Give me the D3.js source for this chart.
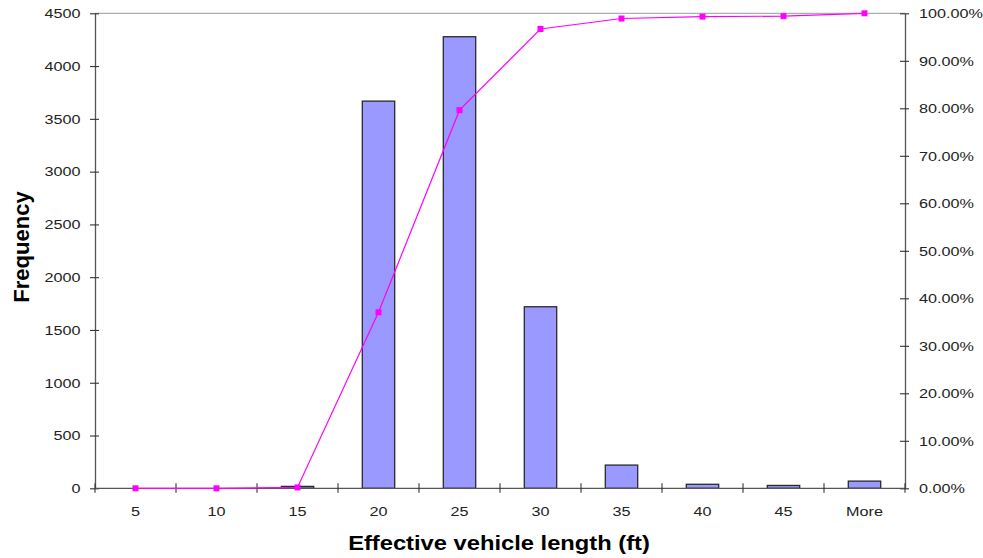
<!DOCTYPE html>
<html>
<head>
<meta charset="utf-8">
<script src="https://cdn.jsdelivr.net/npm/d3@7"></script>
<style>
  html, body { margin: 0; padding: 0; background: #fff; }
  svg { display: block; font-family: "Liberation Sans", Arial, sans-serif; }
</style>
</head>
<body>
<svg id="chart" width="983" height="558"></svg>
<script>
// Histogram of effective vehicle length with cumulative percentage
const categories = ["5", "10", "15", "20", "25", "30", "35", "40", "45", "More"];
const frequency = [0, 0, 18, 3668, 4278, 1720, 220, 38, 27, 68];
const cumulativePct = [0, 0, 0.18, 37.05, 79.6, 96.7, 98.9, 99.3, 99.4, 100];
const leftTicks = [0, 500, 1000, 1500, 2000, 2500, 3000, 3500, 4000, 4500];
const rightTicks = [0, 10, 20, 30, 40, 50, 60, 70, 80, 90, 100];

const svg = d3.select("#chart");
const m = { left: 95, right: 905, top: 13.3, bottom: 488.3 };
const stretch = 1.2;   // horizontal stretch of the label lettering

const xBand = d3.scaleBand().domain(categories).range([m.left, m.right]);
const yL = d3.scaleLinear().domain([0, 4500]).range([m.bottom, m.top]);
const yR = d3.scaleLinear().domain([0, 100]).range([m.bottom, m.top]);

// top border of plot area
svg.append("line")
  .attr("x1", m.left).attr("x2", m.right)
  .attr("y1", m.top).attr("y2", m.top)
  .attr("stroke", "#9a9a9a").attr("stroke-width", 1);

// bars
svg.append("g").selectAll("rect")
  .data(frequency)
  .join("rect")
  .attr("x", (d, i) => xBand(categories[i]) + xBand.bandwidth() * 0.3)
  .attr("width", xBand.bandwidth() * 0.4)
  .attr("y", d => yL(d))
  .attr("height", d => yL(0) - yL(d))
  .attr("fill", "#9999ff")
  .attr("stroke", "#2a2a2a")
  .attr("stroke-width", 1.3);

function styleAxis(g, gap) {
  g.selectAll(".domain").attr("stroke", "#555").attr("stroke-width", 1.3);
  g.selectAll(".tick line").attr("stroke", "#333").attr("stroke-width", 1.1);
  g.selectAll(".tick text")
    .attr("fill", "#222")
    .style("font-size", "13.5px")
    .attr("transform", `scale(${stretch},1)`);
  if (gap !== undefined) g.selectAll(".tick text").attr("x", gap / stretch);
}

// left axis
const gL = svg.append("g").attr("transform", `translate(${m.left},0)`)
  .call(d3.axisLeft(yL).tickValues(leftTicks).tickSize(0).tickFormat(d3.format("d")));
gL.selectAll(".tick").append("line").attr("x1", -5).attr("x2", 4);
styleAxis(gL, -14.5);

// right axis
const gR = svg.append("g").attr("transform", `translate(${m.right},0)`)
  .call(d3.axisRight(yR).tickValues(rightTicks).tickSize(0).tickFormat(d => d.toFixed(2) + "%"));
gR.selectAll(".tick").append("line").attr("x1", -5).attr("x2", 4);
styleAxis(gR, 14);

// bottom axis with ticks at category boundaries
const gB = svg.append("g").attr("transform", `translate(0,${m.bottom})`)
  .call(d3.axisBottom(xBand).tickSize(0));
gB.select(".domain").attr("d", `M${m.left},0H${m.right}`);
const bounds = categories.map(c => xBand(c)).concat([m.right]);
gB.selectAll(".bound").data(bounds).join("line")
  .attr("class", "bound")
  .attr("x1", d => d).attr("x2", d => d)
  .attr("y1", -5).attr("y2", 4.5)
  .attr("stroke", "#333").attr("stroke-width", 1.1);
styleAxis(gB);
gB.selectAll(".tick text").attr("y", 27.5).attr("dy", null);

// cumulative line
const cx = (d, i) => xBand(categories[i]) + xBand.bandwidth() / 2;
svg.append("path")
  .datum(cumulativePct)
  .attr("fill", "none")
  .attr("stroke", "#ff00ff")
  .attr("stroke-width", 1.2)
  .attr("d", d3.line().x(cx).y(d => yR(d)));

svg.append("g").selectAll("rect")
  .data(cumulativePct)
  .join("rect")
  .attr("x", (d, i) => cx(d, i) - 3)
  .attr("y", d => yR(d) - 3)
  .attr("width", 6).attr("height", 6)
  .attr("fill", "#ff00ff");

// axis titles
svg.append("text")
  .attr("transform", "translate(29,247) rotate(-90)")
  .attr("text-anchor", "middle")
  .style("font-size", "22px").style("font-weight", "bold")
  .text("Frequency");

svg.append("text")
  .attr("transform", "translate(499,550) scale(1.13,1)")
  .attr("text-anchor", "middle")
  .style("font-size", "21px").style("font-weight", "bold")
  .text("Effective vehicle length (ft)");
</script>
</body>
</html>
